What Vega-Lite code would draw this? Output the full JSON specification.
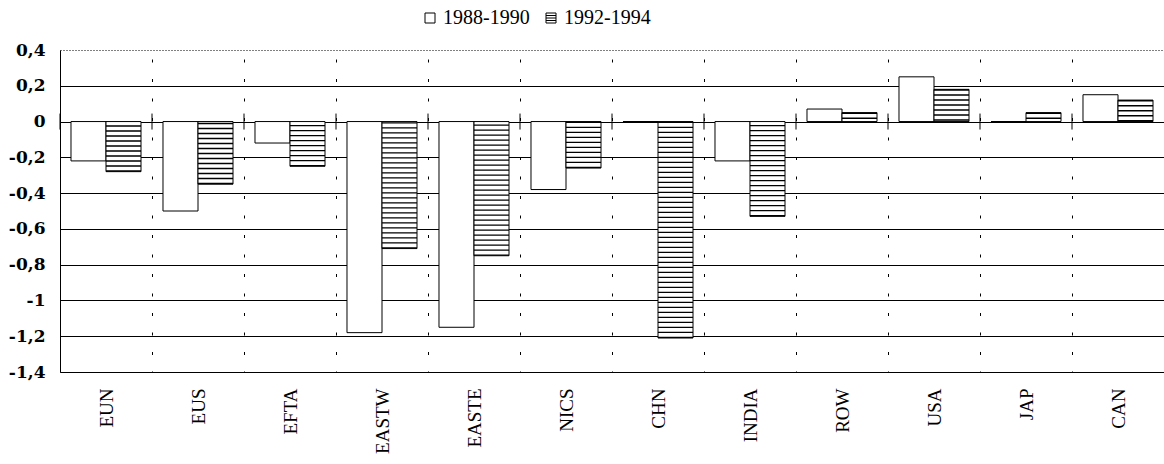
{
  "$schema": "https://vega.github.io/schema/vega-lite/v6.json",
  "width": 1104,
  "height": 322,
  "autosize": {"type": "none"},
  "padding": {"left": 60, "top": 50, "right": 0, "bottom": 92},
  "background": "white",
  "config": {"view": {"stroke": null}},
  "data": {
    "values": [
      {"region": "EUN", "period": "1988-1990", "value": -0.22},
      {"region": "EUN", "period": "1992-1994", "value": -0.28},
      {"region": "EUS", "period": "1988-1990", "value": -0.5},
      {"region": "EUS", "period": "1992-1994", "value": -0.35},
      {"region": "EFTA", "period": "1988-1990", "value": -0.12},
      {"region": "EFTA", "period": "1992-1994", "value": -0.25},
      {"region": "EASTW", "period": "1988-1990", "value": -1.18},
      {"region": "EASTW", "period": "1992-1994", "value": -0.71},
      {"region": "EASTE", "period": "1988-1990", "value": -1.15},
      {"region": "EASTE", "period": "1992-1994", "value": -0.75},
      {"region": "NICS", "period": "1988-1990", "value": -0.38},
      {"region": "NICS", "period": "1992-1994", "value": -0.26},
      {"region": "CHN", "period": "1988-1990", "value": 0},
      {"region": "CHN", "period": "1992-1994", "value": -1.21},
      {"region": "INDIA", "period": "1988-1990", "value": -0.22},
      {"region": "INDIA", "period": "1992-1994", "value": -0.53},
      {"region": "ROW", "period": "1988-1990", "value": 0.07},
      {"region": "ROW", "period": "1992-1994", "value": 0.05},
      {"region": "USA", "period": "1988-1990", "value": 0.25},
      {"region": "USA", "period": "1992-1994", "value": 0.18},
      {"region": "JAP", "period": "1988-1990", "value": 0},
      {"region": "JAP", "period": "1992-1994", "value": 0.05},
      {"region": "CAN", "period": "1988-1990", "value": 0.15},
      {"region": "CAN", "period": "1992-1994", "value": 0.12}
    ]
  },
  "encoding": {
    "x": {
      "field": "region",
      "type": "nominal",
      "sort": null,
      "scale": {"paddingInner": 0, "paddingOuter": 0},
      "axis": {
        "title": null,
        "labelAngle": -90,
        "labelFont": "Liberation Serif",
        "labelFontSize": 19,
        "labelColor": "black",
        "labelPadding": 16,
        "ticks": false,
        "domain": false,
        "grid": true,
        "tickBand": "extent",
        "gridColor": "black",
        "gridOpacity": 1,
        "gridWidth": 1,
        "gridDash": [3, 16.5],
        "gridDashOffset": 10.5
      }
    },
    "y": {
      "field": "value",
      "type": "quantitative",
      "scale": {"domain": [-1.4, 0.4], "nice": false},
      "axis": {
        "title": null,
        "values": [0.4, 0.2, 0, -0.2, -0.4, -0.6, -0.8, -1, -1.2, -1.4],
        "labelExpr": "replace(toString(datum.value), '.', ',')",
        "grid": true,
        "gridColor": "black",
        "gridOpacity": 1,
        "gridWidth": 1,
        "gridDash": {"condition": {"test": "datum.value == 0.4", "value": [1, 2]}, "value": []},
        "domain": true,
        "domainColor": "black",
        "domainWidth": 1,
        "ticks": false,
        "labelPadding": 15,
        "labelFont": "DejaVu Serif",
        "labelFontWeight": "bold",
        "labelFontSize": 17,
        "labelColor": "black"
      }
    },
    "y2": {"datum": 0}
  },
  "layer": [
    {
      "mark": {"type": "bar", "stroke": "black", "strokeWidth": 1},
      "encoding": {
        "xOffset": {
          "field": "period",
          "type": "nominal",
          "sort": null,
          "scale": {"domain": ["1988-1990", "1992-1994"], "paddingInner": 0, "paddingOuter": 0.314}
        },
        "fill": {
          "field": "period",
          "type": "nominal",
          "scale": {"domain": ["1988-1990", "1992-1994"], "range": ["white", "white"]},
          "legend": {
            "title": null,
            "orient": "none",
            "legendX": 360,
            "legendY": -42,
            "direction": "horizontal",
            "symbolType": "square",
            "symbolSize": 100,
            "symbolStrokeColor": "black",
            "symbolStrokeWidth": 1,
            "labelFont": "Liberation Serif",
            "labelFontSize": 20,
            "labelColor": "black",
            "labelOffset": 3,
            "columnPadding": 11,
            "encode": {
              "symbols": {
                "update": {
                  "shape": {"signal": "datum.value == '1992-1994' ? 'M-1,-1H1V1H-1Z M-1,-0.5H1 M-1,0H1 M-1,0.5H1' : 'square'"}
                }
              }
            }
          }
        }
      }
    },
    {
      "transform": [{"filter": "datum.period == '1992-1994'"}],
      "mark": {"type": "rule", "strokeWidth": 35, "strokeDash": [1.3, 3.7], "strokeCap": "butt", "color": "black"},
      "encoding": {
        "xOffset": {"field": "period", "type": "nominal", "sort": null}
      }
    },
    {
      "transform": [{"filter": "datum.period == '1988-1990'"}],
      "mark": {"type": "rule", "color": "black", "strokeWidth": 1, "yOffset": -8, "y2Offset": 8},
      "encoding": {
        "x": {"field": "region", "type": "nominal", "sort": null, "bandPosition": 0},
        "y": {"datum": 0},
        "y2": {"datum": 0}
      }
    }
  ]
}
